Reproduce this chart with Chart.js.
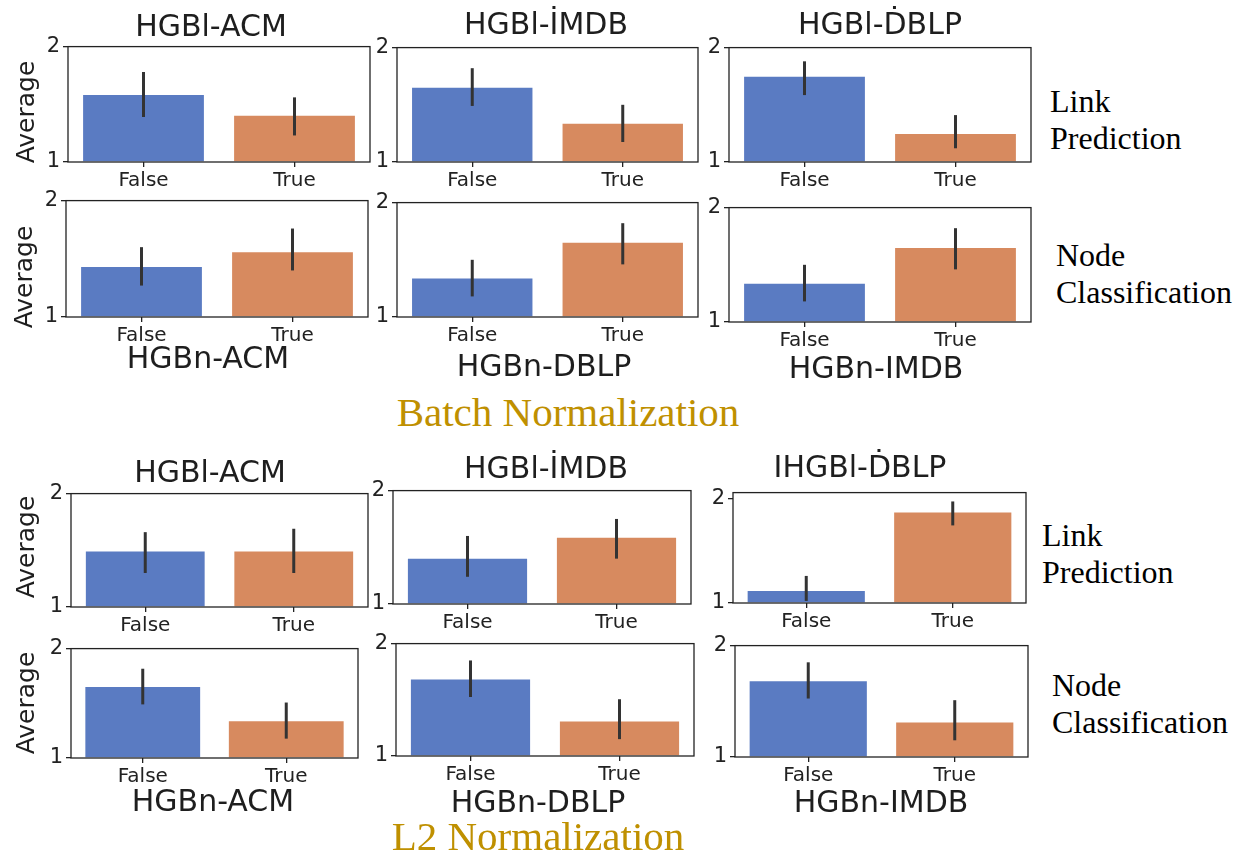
<!DOCTYPE html>
<html>
<head>
<meta charset="utf-8">
<script src="https://cdn.jsdelivr.net/npm/chart.js@4/dist/chart.umd.min.js"></script>
<style>
body { margin: 0; background: #fff; width: 1252px; height: 864px; position: relative; overflow: hidden; font-family: "DejaVu Sans", sans-serif; }
canvas { position: absolute; }
.lbl { position: absolute; transform: translate(-50%, -50%); white-space: nowrap; color: #1e1e1e; line-height: 1; }
.side { position: absolute; font-family: "Liberation Serif", serif; font-size: 32px; color: #000; line-height: 37px; white-space: nowrap; }
.big { position: absolute; transform: translate(-50%, -50%); font-family: "Liberation Serif", serif; font-size: 41px; color: #bf9000; line-height: 1; white-space: nowrap; }
</style>
</head>
<body>
<script>
// data (bar = mean, lo/hi = error bar ends)
const categories = ['False', 'True'];
const yTicks = [1, 2];
const barColors = ['#5a7bc2', '#d78a5f'];

// Batch Normalization - link prediction (ACM, IMDB, DBLP)
const bnLinkTitles = ['HGBl-ACM', 'HGBl-\u0130MDB', 'HGBl-\u1E0ABLP'];
const bnLinkMean = [[1.58, 1.40], [1.65, 1.335], [1.745, 1.245]];
const bnLinkLo   = [[1.39, 1.23], [1.49, 1.175], [1.585, 1.12]];
const bnLinkHi   = [[1.78, 1.56], [1.82, 1.50], [1.88, 1.41]];

// Batch Normalization - node classification (ACM, DBLP, IMDB)
const bnNodeTitles = ['HGBn-ACM', 'HGBn-DBLP', 'HGBn-IMDB'];
const bnNodeMean = [[1.43, 1.557], [1.336, 1.65], [1.335, 1.647]];
const bnNodeLo   = [[1.27, 1.40], [1.18, 1.46], [1.18, 1.46]];
const bnNodeHi   = [[1.60, 1.76], [1.50, 1.82], [1.50, 1.82]];

// L2 Normalization - link prediction
const l2LinkTitles = ['HGBl-ACM', 'HGBl-\u0130MDB', 'IHGBl-\u1E0ABLP'];
const l2LinkMean = [[1.49, 1.49], [1.40, 1.585], [1.116, 1.87]];
const l2LinkLo   = [[1.30, 1.30], [1.24, 1.40], [1.02, 1.745]];
const l2LinkHi   = [[1.66, 1.69], [1.60, 1.75], [1.26, 1.975]];

// L2 Normalization - node classification
const l2NodeTitles = ['HGBn-ACM', 'HGBn-DBLP', 'HGBn-IMDB'];
const l2NodeMean = [[1.65, 1.336], [1.68, 1.306], [1.68, 1.31]];
const l2NodeLo   = [[1.49, 1.177], [1.525, 1.15], [1.525, 1.15]];
const l2NodeHi   = [[1.816, 1.507], [1.85, 1.505], [1.85, 1.51]];

const yMaxBn = [2, 2, 2];
const yMaxL2Link = [2, 2, 2.06];

// plot boxes [left, top, right, bottom] in page pixels
const boxes = [
  [[68, 45, 370, 162], [397, 46, 698, 162], [729, 46, 1031, 162]],
  [[66, 199, 368, 317], [397, 201, 698, 317], [729, 206, 1031, 322]],
  [[71, 492, 368, 607], [393, 489, 691, 604], [733, 491, 1026, 603]],
  [[71, 647, 358, 758], [396, 642, 694, 756], [735, 644, 1028, 757]]
];

const frameAndErrors = {
  id: 'frameAndErrors',
  afterDatasetsDraw(chart, args, opts) {
    const { ctx, chartArea: a, scales: { x, y } } = chart;
    ctx.save();
    ctx.strokeStyle = '#333';
    ctx.lineWidth = 3;
    opts.lo.forEach((lo, i) => {
      const px = x.getPixelForValue(i);
      ctx.beginPath();
      ctx.moveTo(px, y.getPixelForValue(lo));
      ctx.lineTo(px, y.getPixelForValue(opts.hi[i]));
      ctx.stroke();
    });
    ctx.strokeStyle = '#222';
    ctx.lineWidth = 1.3;
    ctx.strokeRect(a.left, a.top, a.width, a.height);
    ctx.restore();
  }
};

function makePanel(box, means, lo, hi, yMax) {
  const padTop = 14, padRight = 4, YW = 44, XH = 40;
  const w = YW + (box[2] - box[0]) + padRight;
  const h = padTop + (box[3] - box[1]) + XH;
  const c = document.createElement('canvas');
  c.width = w; c.height = h;
  c.style.width = w + 'px'; c.style.height = h + 'px';
  c.style.left = (box[0] - YW) + 'px';
  c.style.top = (box[1] - padTop) + 'px';
  document.body.appendChild(c);
  new Chart(c, {
    type: 'bar',
    data: {
      labels: categories,
      datasets: [{ data: means, backgroundColor: barColors, base: 1, barPercentage: 0.8, categoryPercentage: 1 }]
    },
    options: {
      responsive: false,
      animation: false,
      layout: { padding: { top: padTop, right: padRight, left: 0, bottom: 0 } },
      plugins: { legend: { display: false }, tooltip: { enabled: false }, frameAndErrors: { lo: lo, hi: hi } },
      scales: {
        x: {
          grid: { offset: false, drawOnChartArea: false, drawTicks: true, tickLength: 5, color: '#222', lineWidth: 1.3 },
          border: { display: false },
          ticks: { font: { family: 'DejaVu Sans', size: 20 }, color: '#222', padding: 2 },
          afterFit(s) { s.height = XH; }
        },
        y: {
          min: 1, max: yMax,
          afterBuildTicks(s) { s.ticks = yTicks.map(v => ({ value: v })); },
          grid: { drawOnChartArea: false, drawTicks: true, tickLength: 5, color: '#222', lineWidth: 1.3 },
          border: { display: false },
          ticks: { font: { family: 'DejaVu Sans', size: 21 }, color: '#222', padding: 3 },
          afterFit(s) { s.width = YW; }
        }
      }
    },
    plugins: [frameAndErrors]
  });
}

function addText(cls, text, x, y, size) {
  const d = document.createElement('div');
  d.className = cls;
  d.innerHTML = text;
  d.style.left = x + 'px';
  d.style.top = y + 'px';
  if (size) d.style.fontSize = size + 'px';
  document.body.appendChild(d);
  return d;
}

const rows = [
  [bnLinkMean, bnLinkLo, bnLinkHi, yMaxBn],
  [bnNodeMean, bnNodeLo, bnNodeHi, yMaxBn],
  [l2LinkMean, l2LinkLo, l2LinkHi, yMaxL2Link],
  [l2NodeMean, l2NodeLo, l2NodeHi, yMaxBn]
];
rows.forEach((r, ri) => {
  for (let k = 0; k < 3; k++) makePanel(boxes[ri][k], r[0][k], r[1][k], r[2][k], r[3][k]);
});

// panel titles (top) and x labels (bottom)
const titlePos = [
  [[211, 26], [546, 24], [880, 24]],
  [[208, 358], [544, 366], [876, 368]],
  [[210, 472], [546, 468], [860, 467]],
  [[213, 801], [538, 802], [881, 802]]
];
[bnLinkTitles, bnNodeTitles, l2LinkTitles, l2NodeTitles].forEach((t, ri) => {
  t.forEach((s, k) => addText('lbl', s, titlePos[ri][k][0], titlePos[ri][k][1], 30));
});

// y axis labels
[[25, 112], [23, 277], [25, 547], [25, 703]].forEach(p => {
  const d = addText('lbl', 'Average', p[0], p[1], 25);
  d.style.transform = 'translate(-50%, -50%) rotate(-90deg)';
});

// row labels
addText('side', 'Link<br>Prediction', 1050, 101 - 18.5);
addText('side', 'Node<br>Classification', 1056, 255 - 18.5);
addText('side', 'Link<br>Prediction', 1042, 535 - 18.5);
addText('side', 'Node<br>Classification', 1052, 685 - 18.5);

addText('big', 'Batch Normalization', 568, 412);
addText('big', 'L2 Normalization', 538, 836);
</script>
</body>
</html>
